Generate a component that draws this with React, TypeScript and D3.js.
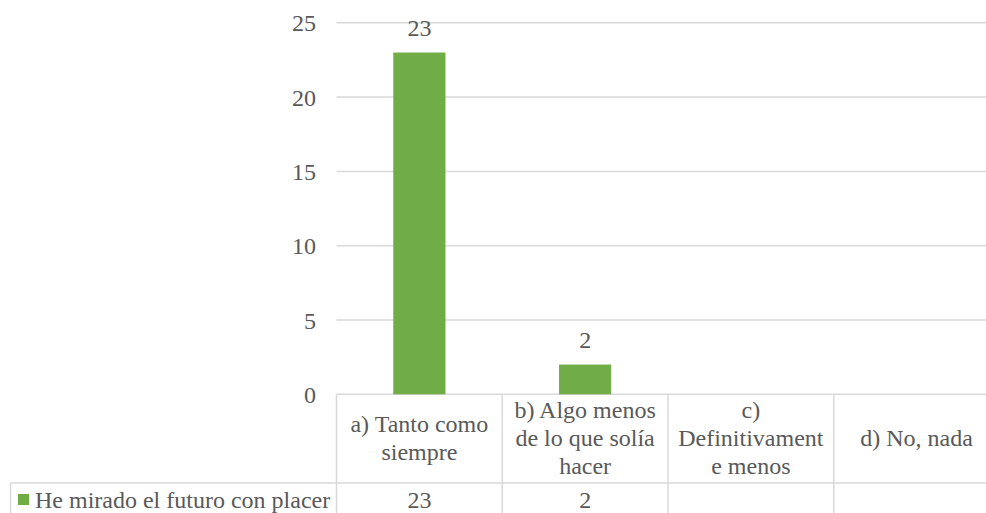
import React from "react";
import * as d3 from "d3";

// Survey answers and counts for the single series
const categories: string[] = [
  "a) Tanto como\nsiempre",
  "b) Algo menos\nde lo que solía\nhacer",
  "c)\nDefinitivament\ne menos",
  "d) No, nada",
];
const seriesName = "He mirado el futuro con placer";
const values: (number | null)[] = [23, 2, null, null];
const yTicks: number[] = [0, 5, 10, 15, 20, 25];

const W = 986;
const H = 513;
const TEXT = "#595959";
const GRID = "#d9d9d9";
const BAR = "#70ad47";
const FONT = '"Liberation Serif", monospace';
const FS = 24;
const LINE_H = 28;
const textStyle: React.CSSProperties = {
  fontFamily: FONT,
  fontSize: FS,
  fill: TEXT,
};

export default function App() {
  const x = d3
    .scaleBand<string>()
    .domain(categories)
    .range([336.5, 999.5])
    .paddingInner(0)
    .paddingOuter(0);
  const y = d3.scaleLinear().domain([0, 25]).range([394.3, 22.8]);

  const barW = x.bandwidth() * 0.315;
  const rowTop = y(0);
  const rowSplit = 483;
  const rowMid = (rowTop + rowSplit) / 2;
  const right = x.range()[1];
  const legendLeft = 10.5;

  return (
    <svg width={W} height={H} style={{ position: "absolute", left: 0, top: 0 }}>
      {/* gridlines */}
      {yTicks.map((t) => (
        <line
          key={"g" + t}
          x1={x.range()[0]}
          x2={right}
          y1={y(t)}
          y2={y(t)}
          stroke={GRID}
          strokeWidth={1.5}
        />
      ))}
      {/* y tick labels */}
      {yTicks.map((t) => (
        <text key={"t" + t} x={316} y={y(t) + 8.5} textAnchor="end" fontFamily={FONT} style={textStyle}>
          {t}
        </text>
      ))}
      {/* bars and value labels */}
      {categories.map((c, i) => {
        const v = values[i];
        if (v == null) return null;
        const cx = (x(c) as number) + x.bandwidth() / 2;
        return (
          <g key={"b" + i}>
            <rect
              x={cx - barW / 2}
              y={y(v)}
              width={barW}
              height={y(0) - y(v)}
              fill={BAR}
            />
            <text x={cx} y={y(v) - 16.5} textAnchor="middle" fontFamily={FONT} style={textStyle}>
              {v}
            </text>
          </g>
        );
      })}
      {/* data table: vertical borders */}
      {categories.map((c, i) => (
        <line
          key={"v" + i}
          x1={x(c) as number}
          x2={x(c) as number}
          y1={rowTop}
          y2={H + 2}
          stroke={GRID}
          strokeWidth={1.5}
        />
      ))}
      <line x1={legendLeft} x2={legendLeft} y1={rowSplit} y2={H + 2} stroke={GRID} strokeWidth={1.5} />
      <line x1={legendLeft} x2={right} y1={rowSplit} y2={rowSplit} stroke={GRID} strokeWidth={1.5} />
      {/* category labels */}
      {categories.map((c, i) => {
        const lines = c.split("\n");
        const cx = (x(c) as number) + x.bandwidth() / 2;
        return (
          <text key={"c" + i} textAnchor="middle" fontFamily={FONT} style={textStyle}>
            {lines.map((ln, j) => (
              <tspan
                key={j}
                x={cx}
                y={rowMid + 7.5 + (j - (lines.length - 1) / 2) * LINE_H}
              >
                {ln}
              </tspan>
            ))}
          </text>
        );
      })}
      {/* legend key and series name */}
      <rect x={18} y={494} width={11} height={11} fill={BAR} />
      <text x={35} y={507.5} fontFamily={FONT} style={textStyle}>
        {seriesName}
      </text>
      {/* table values */}
      {categories.map((c, i) => {
        const v = values[i];
        if (v == null) return null;
        const cx = (x(c) as number) + x.bandwidth() / 2;
        return (
          <text key={"d" + i} x={cx} y={508} textAnchor="middle" fontFamily={FONT} style={textStyle}>
            {v}
          </text>
        );
      })}
    </svg>
  );
}
